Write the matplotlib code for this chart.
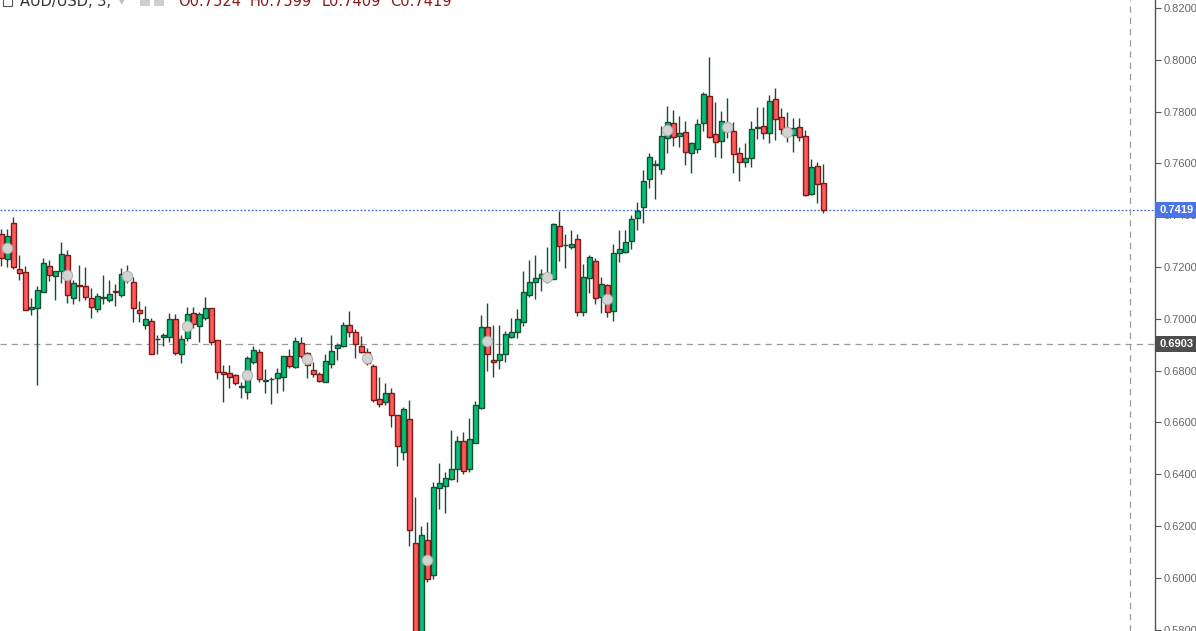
import matplotlib
matplotlib.use("Agg")
import matplotlib.pyplot as plt
import matplotlib.transforms as mtransforms
from matplotlib.patches import Rectangle
import numpy as np

# ---------------- data (weekly AUD/USD candles) ----------------
opens = [0.7326, 0.7230, 0.7369, 0.7191, 0.7179, 0.7037, 0.7040, 0.7105, 0.7203, 0.7164,
         0.7186, 0.7245, 0.7082, 0.7129, 0.7126, 0.7079, 0.7037, 0.7080, 0.7074, 0.7108,
         0.7092, 0.7162, 0.7142, 0.7034, 0.6977, 0.6992, 0.6923, 0.6928, 0.6931, 0.6999,
         0.6863, 0.6925, 0.7021, 0.6974, 0.7002, 0.7040, 0.6917, 0.6793, 0.6789, 0.6783,
         0.6737, 0.6716, 0.6834, 0.6871, 0.6760, 0.6767, 0.6770, 0.6774, 0.6856, 0.6815,
         0.6905, 0.6867, 0.6802, 0.6786, 0.6755, 0.6824, 0.6886, 0.6894, 0.6976, 0.6948,
         0.6895, 0.6871, 0.6817, 0.6689, 0.6677, 0.6712, 0.6627, 0.6484, 0.6612, 0.6133,
         0.5770, 0.6145, 0.6010, 0.6345, 0.6356, 0.6383, 0.6419, 0.6528, 0.6421, 0.6519,
         0.6654, 0.6967, 0.6840, 0.6840, 0.6863, 0.6931, 0.6950, 0.6989, 0.7092, 0.7143,
         0.7159, 0.7160, 0.7154, 0.7357, 0.7284, 0.7276, 0.7307, 0.7025, 0.7156, 0.7222,
         0.7086, 0.7130, 0.7031, 0.7253, 0.7259, 0.7302, 0.7390, 0.7433, 0.7539, 0.7595,
         0.7580, 0.7699, 0.7755, 0.7705, 0.7723, 0.7639, 0.7654, 0.7755, 0.7860, 0.7712,
         0.7688, 0.7740, 0.7725, 0.7639, 0.7604, 0.7620, 0.7738, 0.7744, 0.7716, 0.7847,
         0.7778, 0.7725, 0.7708, 0.7739, 0.7706, 0.7482, 0.7589, 0.7524]
highs = [0.7345, 0.7347, 0.7392, 0.7246, 0.7204, 0.7079, 0.7127, 0.7236, 0.7227, 0.7186,
         0.7297, 0.7266, 0.7150, 0.7208, 0.7201, 0.7118, 0.7098, 0.7169, 0.7150, 0.7134,
         0.7195, 0.7208, 0.7163, 0.7069, 0.7049, 0.7004, 0.6937, 0.6946, 0.7024, 0.7017,
         0.6937, 0.7047, 0.7047, 0.7028, 0.7083, 0.7042, 0.6918, 0.6822, 0.6820, 0.6785,
         0.6755, 0.6858, 0.6895, 0.6883, 0.6806, 0.6777, 0.6811, 0.6858, 0.6883, 0.6930,
         0.6930, 0.6870, 0.6834, 0.6793, 0.6863, 0.6937, 0.6908, 0.6989, 0.7030, 0.6961,
         0.6934, 0.6889, 0.6827, 0.6777, 0.6751, 0.6732, 0.6628, 0.6658, 0.6687, 0.6313,
         0.6200, 0.6215, 0.6370, 0.6442, 0.6410, 0.6571, 0.6548, 0.6563, 0.6616, 0.6681,
         0.7015, 0.7060, 0.6976, 0.6976, 0.6953, 0.7002, 0.7038, 0.7185, 0.7227, 0.7246,
         0.7191, 0.7276, 0.7369, 0.7416, 0.7326, 0.7343, 0.7326, 0.7210, 0.7246, 0.7233,
         0.7163, 0.7135, 0.7288, 0.7343, 0.7343, 0.7401, 0.7450, 0.7575, 0.7639, 0.7613,
         0.7744, 0.7822, 0.7806, 0.7783, 0.7764, 0.7684, 0.7770, 0.7877, 0.8012, 0.7838,
         0.7802, 0.7851, 0.7761, 0.7665, 0.7677, 0.7764, 0.7819, 0.7819, 0.7864, 0.7892,
         0.7813, 0.7800, 0.7774, 0.7774, 0.7729, 0.7616, 0.7604, 0.7599]
lows = [0.7205, 0.7201, 0.7192, 0.7150, 0.7033, 0.7015, 0.6744, 0.7105, 0.7146, 0.7073,
        0.7140, 0.7062, 0.7056, 0.7070, 0.7073, 0.7004, 0.7028, 0.7058, 0.7064, 0.7051,
        0.7086, 0.7137, 0.6989, 0.6989, 0.6961, 0.6865, 0.6865, 0.6896, 0.6912, 0.6860,
        0.6831, 0.6915, 0.6963, 0.6912, 0.6995, 0.6899, 0.6766, 0.6678, 0.6734, 0.6745,
        0.6695, 0.6690, 0.6825, 0.6755, 0.6712, 0.6670, 0.6712, 0.6722, 0.6809, 0.6809,
        0.6850, 0.6770, 0.6777, 0.6755, 0.6755, 0.6809, 0.6841, 0.6890, 0.6931, 0.6850,
        0.6869, 0.6822, 0.6680, 0.6661, 0.6667, 0.6584, 0.6432, 0.6455, 0.6124, 0.5510,
        0.5620, 0.5982, 0.5994, 0.6264, 0.6251, 0.6377, 0.6371, 0.6401, 0.6410, 0.6519,
        0.6650, 0.6800, 0.6777, 0.6805, 0.6835, 0.6925, 0.6925, 0.6974, 0.7086, 0.7077,
        0.7107, 0.7137, 0.7154, 0.7225, 0.7195, 0.7270, 0.7011, 0.7012, 0.7098, 0.7058,
        0.7021, 0.7006, 0.6993, 0.7221, 0.7253, 0.7268, 0.7343, 0.7371, 0.7506, 0.7464,
        0.7558, 0.7641, 0.7667, 0.7662, 0.7594, 0.7564, 0.7640, 0.7726, 0.7697, 0.7626,
        0.7622, 0.7699, 0.7564, 0.7533, 0.7587, 0.7587, 0.7693, 0.7693, 0.7677, 0.7690,
        0.7712, 0.7684, 0.7645, 0.7688, 0.7476, 0.7478, 0.7448, 0.7409]
closes = [0.7236, 0.7320, 0.7199, 0.7176, 0.7033, 0.7044, 0.7110, 0.7214, 0.7168, 0.7183,
          0.7249, 0.7091, 0.7137, 0.7127, 0.7083, 0.7044, 0.7087, 0.7083, 0.7096, 0.7105,
          0.7172, 0.7166, 0.7040, 0.7021, 0.6999, 0.6866, 0.6921, 0.6936, 0.6999, 0.6869,
          0.6921, 0.7019, 0.6979, 0.7017, 0.7040, 0.6909, 0.6796, 0.6786, 0.6777, 0.6753,
          0.6740, 0.6847, 0.6878, 0.6766, 0.6762, 0.6768, 0.6790, 0.6856, 0.6819, 0.6914,
          0.6858, 0.6822, 0.6786, 0.6761, 0.6837, 0.6876, 0.6898, 0.6976, 0.6950, 0.6901,
          0.6871, 0.6828, 0.6688, 0.6670, 0.6712, 0.6627, 0.6508, 0.6650, 0.6183, 0.5770,
          0.6164, 0.5994, 0.6349, 0.6365, 0.6384, 0.6419, 0.6528, 0.6414, 0.6535, 0.6666,
          0.6967, 0.6863, 0.6832, 0.6863, 0.6940, 0.6948, 0.6998, 0.7102, 0.7141, 0.7156,
          0.7172, 0.7165, 0.7365, 0.7280, 0.7285, 0.7288, 0.7025, 0.7160, 0.7237, 0.7079,
          0.7133, 0.7025, 0.7253, 0.7268, 0.7298, 0.7384, 0.7418, 0.7532, 0.7623, 0.7597,
          0.7706, 0.7759, 0.7701, 0.7716, 0.7643, 0.7678, 0.7751, 0.7867, 0.7703, 0.7684,
          0.7764, 0.7744, 0.7635, 0.7604, 0.7620, 0.7731, 0.7740, 0.7716, 0.7841, 0.7770,
          0.7731, 0.7720, 0.7735, 0.7703, 0.7477, 0.7585, 0.7522, 0.7419]
marker_idx = [1, 11, 21, 31, 41, 51, 61, 71, 81, 91, 101, 111, 121, 131]
last_price = 0.7419
cross_price = 0.6903
cross_x = 188.1
y_ticks = [0.58, 0.60, 0.62, 0.64, 0.66, 0.68, 0.70, 0.72, 0.74, 0.76, 0.78, 0.80, 0.82]
title_text = "AUD/USD, 3,"
ohlc_labels = ["O0.7524", "H0.7599", "L0.7409", "C0.7419"]

# ---------------- figure ----------------
W, H = 1196, 631
AX_RIGHT = 1155
fig = plt.figure(figsize=(W / 100, H / 100), dpi=100)
fig.patch.set_facecolor("white")
ax = fig.add_axes([0, 0, AX_RIGHT / W, 1])
ax.set_facecolor("white")

o = np.array(opens); hh = np.array(highs); ll = np.array(lows); c = np.array(closes)
x = np.arange(len(o))
up = c >= o

green_fill, green_edge = "#00C176", "#1B4D33"
red_fill, red_edge = "#FF5A5A", "#7A1B1B"
wick_col = "#1E4A35"

ax.vlines(x, ll, hh, color=wick_col, linewidth=1.0, zorder=2)
bottoms = np.minimum(o, c)
heights = np.maximum(np.abs(c - o), 0.00005)
ax.bar(x[up], heights[up], bottom=bottoms[up], width=0.75,
       color=green_fill, edgecolor=green_edge, linewidth=1.0, zorder=3)
ax.bar(x[~up], heights[~up], bottom=bottoms[~up], width=0.75,
       color=red_fill, edgecolor=red_edge, linewidth=1.0, zorder=3)

mi = np.array(marker_idx)
ax.scatter(mi, (o[mi] + c[mi]) / 2, s=55, color="#D4D4D4", edgecolor="#B0B0B0",
           linewidth=0.8, zorder=4)

ax.set_xlim(-0.217, 192.28)
ax.set_ylim(0.57946, 0.82309)

# price lines / crosshair
ax.axhline(last_price, color="#3A6BE0", linewidth=0.9, linestyle=(0, (1.5, 1.5)), zorder=1)
ax.axhline(cross_price, color="#9A9A9A", linewidth=0.9, linestyle=(0, (5, 4)), zorder=1)
ax.axvline(cross_x, color="#9A9A9A", linewidth=0.9, linestyle=(0, (5, 4)), zorder=1)

# axis styling
for s in ["left", "top", "bottom"]:
    ax.spines[s].set_visible(False)
ax.spines["right"].set_color("#555555")
ax.spines["right"].set_linewidth(1.0)
ax.set_xticks([])
ax.yaxis.tick_right()
ax.set_yticks(y_ticks)
ax.set_yticklabels([f"{v:.4f}" for v in y_ticks])
ax.tick_params(axis="y", direction="out", length=4, width=0.8, color="#555555",
               labelcolor="#666666", labelsize=8, pad=2)
for lab in ax.get_yticklabels():
    lab.set_fontfamily("Liberation Sans")

# price label boxes on the axis
def fx(px):
    return px / W

def fy(py):
    return 1 - py / H

def price_box(price, text, fc):
    ypix = ax.transData.transform((0, price))[1]  # from bottom, in pixels
    fig.patches.append(Rectangle((fx(AX_RIGHT), (ypix - 8) / H), (W - AX_RIGHT) / W, 16 / H,
                                 transform=fig.transFigure, facecolor=fc, edgecolor="none",
                                 zorder=10))
    fig.text(fx(AX_RIGHT + 4), ypix / H, text, fontsize=8, fontweight="bold",
             family="Liberation Sans", color="white", va="center", ha="left", zorder=11)

price_box(last_price, "0.7419", "#4A74E8")
price_box(cross_price, "0.6903", "#4D4D4D")

# header (cut at the top edge)
fig.patches.append(Rectangle((fx(3), fy(6)), 9 / W, 9 / H, transform=fig.transFigure,
                             fill=False, edgecolor="#555555", linewidth=0.8))
fig.text(fx(20), fy(6), title_text, fontsize=10.5, color="#333333", va="baseline", ha="left")
fig.text(fx(119), fy(5), "\u25be", fontsize=8, color="#BBBBBB", va="baseline", ha="left")
fig.patches.append(Rectangle((fx(140), fy(6)), 10 / W, 10 / H, transform=fig.transFigure,
                             facecolor="#CFCFCF", edgecolor="none"))
fig.patches.append(Rectangle((fx(154), fy(6)), 10 / W, 10 / H, transform=fig.transFigure,
                             facecolor="#CFCFCF", edgecolor="none"))
for lab, px in zip(ohlc_labels, [178, 250, 322, 390]):
    fig.text(fx(px), fy(6), lab, fontsize=10.5, color="#8B1A1A", va="baseline", ha="left")

fig.savefig("out.png", dpi=100, facecolor="white")
